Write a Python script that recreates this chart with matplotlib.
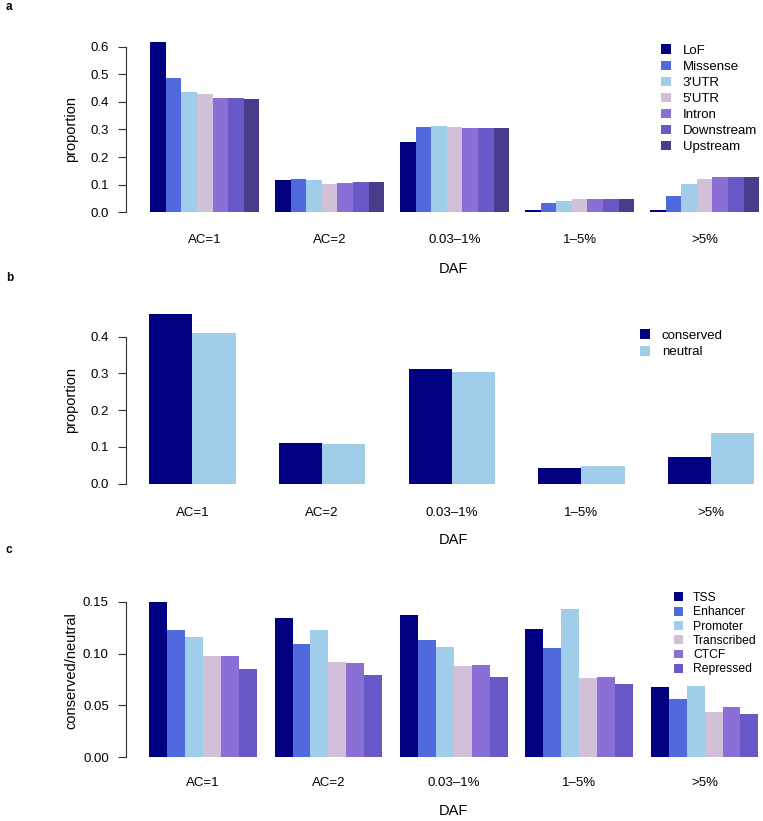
import numpy as np
import matplotlib
matplotlib.use("Agg")
import matplotlib.pyplot as plt

plt.rcParams['font.family'] = ['Liberation Sans', 'DejaVu Sans']

# categories (DAF bins)
daf_bins = ['AC=1', 'AC=2', '0.03–1%', '1–5%', '>5%']

# panel a: proportion per functional class
classes_a = ['LoF', 'Missense', "3'UTR", "5'UTR", 'Intron', 'Downstream', 'Upstream']
lof        = [0.618, 0.116, 0.255, 0.010, 0.010]
missense   = [0.485, 0.121, 0.309, 0.032, 0.059]
utr3       = [0.434, 0.116, 0.314, 0.040, 0.101]
utr5       = [0.428, 0.104, 0.308, 0.047, 0.119]
intron     = [0.414, 0.107, 0.306, 0.047, 0.129]
downstream = [0.414, 0.108, 0.306, 0.047, 0.128]
upstream   = [0.412, 0.110, 0.306, 0.047, 0.129]
colors_a = ['#000080', '#5069dc', '#a0cdea', '#d2bfd8', '#8a6fd6', '#6859c8', '#473d8a']

# panel b: conserved vs neutral
classes_b = ['conserved', 'neutral']
conserved = [0.463, 0.112, 0.311, 0.044, 0.074]
neutral   = [0.410, 0.107, 0.303, 0.047, 0.138]
colors_b = ['#000080', '#a0cdea']

# panel c: conserved/neutral ratio per chromatin state
classes_c = ['TSS', 'Enhancer', 'Promoter', 'Transcribed', 'CTCF', 'Repressed']
tss         = [0.1497, 0.1343, 0.1374, 0.1236, 0.0674]
enhancer    = [0.1224, 0.1089, 0.1127, 0.1057, 0.0562]
promoter    = [0.1160, 0.1224, 0.1063, 0.1426, 0.0690]
transcribed = [0.0979, 0.0915, 0.0883, 0.0761, 0.0440]
ctcf        = [0.0973, 0.0909, 0.0886, 0.0774, 0.0485]
repressed   = [0.0848, 0.0790, 0.0774, 0.0707, 0.0417]
colors_c = ['#000080', '#5069dc', '#a0cdea', '#d2bfd8', '#8a6fd6', '#6859c8']

W, H = 763, 821
fig = plt.figure(figsize=(W / 100, H / 100), dpi=100)


def barpanel(rect, series, names, colors, xlim, ylim, yticks, yfmt, ylabel,
             tickpad, daf_y, ylab_y, leg_xy, leg_fs, leg_hl, leg_ls, leg_tp):
    ax = fig.add_axes(rect)
    n = len(series)
    period = n + 1
    for i, (vals, col, lab) in enumerate(zip(series, colors, names)):
        x = 1 + period * np.arange(len(daf_bins)) + i
        ax.bar(x, vals, width=1, align='edge', color=col, edgecolor='none', label=lab)
    ax.set_xlim(*xlim)
    ax.set_ylim(*ylim)
    for s in ['top', 'right', 'bottom']:
        ax.spines[s].set_visible(False)
    ax.spines['left'].set_bounds(yticks[0], yticks[-1])
    ax.spines['left'].set_color('#333333')
    ax.spines['left'].set_linewidth(0.8)
    ax.set_yticks(yticks)
    ax.set_yticklabels([yfmt % v for v in yticks])
    ax.tick_params(axis='y', length=5.5, width=0.8, color='#333333', pad=6.5, labelsize=9.5)
    ax.set_xticks(1 + period * np.arange(len(daf_bins)) + n / 2)
    ax.set_xticklabels(daf_bins)
    ax.tick_params(axis='x', length=0, pad=tickpad, labelsize=9.5)
    ax.set_xlabel('DAF', fontsize=10.5)
    ax.xaxis.set_label_coords(0.515, daf_y)
    ax.xaxis.label.set_va('center')
    ax.set_ylabel(ylabel, fontsize=10.5)
    ax.yaxis.set_label_coords(-0.0855, ylab_y)
    ax.yaxis.label.set_va('center')
    ax.legend(loc='upper left', bbox_to_anchor=leg_xy, bbox_transform=fig.transFigure,
              frameon=False, borderpad=0, borderaxespad=0, fontsize=leg_fs,
              handlelength=leg_hl, handleheight=leg_hl, handletextpad=leg_tp,
              labelspacing=leg_ls)
    return ax


left = 125.5 / W
width = (W - 125.5) / W

# panel a
barpanel([left, (H - 212.3) / H, width, 177.5 / H],
         [lof, missense, utr3, utr5, intron, downstream, upstream], classes_a, colors_a,
         (-0.57, 40.24), (0, 0.643), [0, 0.1, 0.2, 0.3, 0.4, 0.5, 0.6], '%.1f', 'proportion',
         15.5, -0.321, 0.471, (661 / W, (H - 44.5) / H), 9.5, 0.76, 0.27, 0.9)

# panel b
barpanel([left, (H - 483.7) / H, width, 177.1 / H],
         [conserved, neutral], classes_b, colors_b,
         (0.451, 15.2), (0, 0.482), [0, 0.1, 0.2, 0.3, 0.4], '%.1f', 'proportion',
         16.5, -0.316, 0.473, (640 / W, (H - 329.5) / H), 9.5, 0.76, 0.3, 0.9)

# panel c
barpanel([left, (H - 757.3) / H, width, 161.6 / H],
         [tss, enhancer, promoter, transcribed, ctcf, repressed], classes_c, colors_c,
         (-0.324, 35.26), (0, 0.1557), [0, 0.05, 0.10, 0.15], '%.2f', 'conserved/neutral',
         14.3, -0.330, 0.537, (674 / W, (H - 592) / H), 8.7, 0.75, 0.19, 0.83)

for lab, y in [('a', 7), ('b', 278), ('c', 550)]:
    fig.text(6 / W, (H - y) / H, lab, fontsize=8.5, fontweight='bold', va='center', ha='left')

fig.savefig('out.png', dpi=100)
